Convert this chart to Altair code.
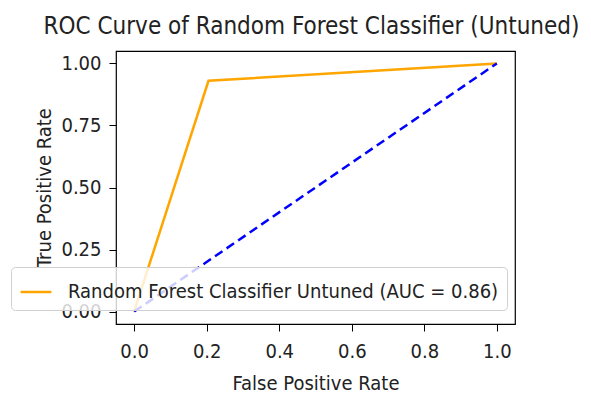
import altair as alt
import pandas as pd

# ---- data ----
fpr = [0.0, 0.205, 1.0]
tpr = [0.0, 0.93, 1.0]
diag_x = [0.0, 1.0]
diag_y = [0.0, 1.0]
series_name = "Random Forest Classifier Untuned (AUC = 0.86)"
x_ticks = [0.0, 0.2, 0.4, 0.6, 0.8, 1.0]
y_ticks = [0.0, 0.25, 0.5, 0.75, 1.0]

FONT = "DejaVu Sans Condensed, Liberation Sans Narrow, DejaVu Sans"
TXT = "#222222"

roc_df = pd.DataFrame({
    "fpr": fpr,
    "tpr": tpr,
    "series": [series_name] * len(fpr),
    "order": list(range(len(fpr))),
})
diag_df = pd.DataFrame({"fpr": diag_x, "tpr": diag_y, "order": list(range(len(diag_x)))})

xscale = alt.Scale(domain=[-0.05, 1.05], nice=False, zero=False)
yscale = alt.Scale(domain=[-0.05, 1.05], nice=False, zero=False)

common_axis = dict(
    grid=False, domain=False, tickColor="black", tickSize=7, tickWidth=1,
    labelFontSize=20, titleFontSize=20, labelFont=FONT, titleFont=FONT,
    labelColor=TXT, titleColor=TXT, titleFontWeight="normal",
    labelFlush=False, labelOverlap=False,
)

xaxis = alt.Axis(values=x_ticks, format=".1f", title="False Positive Rate",
                 labelPadding=10, titlePadding=12, **common_axis)
yaxis = alt.Axis(values=y_ticks, format=".2f", title="True Positive Rate",
                 labelPadding=8, titlePadding=6, **common_axis)

roc = alt.Chart(roc_df).mark_line(strokeWidth=2.5).encode(
    x=alt.X("fpr:Q", scale=xscale, axis=xaxis),
    y=alt.Y("tpr:Q", scale=yscale, axis=yaxis),
    order="order:Q",
    color=alt.Color(
        "series:N",
        scale=alt.Scale(domain=[series_name], range=["#FFA500"]),
        legend=alt.Legend(
            title=None, orient="none", legendX=-105, legendY=216,
            symbolType="stroke", symbolStrokeWidth=2.5, symbolSize=950,
            labelFontSize=20, labelFont=FONT, labelColor=TXT, labelLimit=700,
            labelOffset=15, padding=8,
            fillColor="rgba(255,255,255,0.8)", strokeColor="#d0d0d0",
            cornerRadius=4,
        ),
    ),
)

diag = alt.Chart(diag_df).mark_line(strokeWidth=2.5, strokeDash=[9, 5], color="#0000FF").encode(
    x=alt.X("fpr:Q", scale=xscale),
    y=alt.Y("tpr:Q", scale=yscale),
    order="order:Q",
)

chart = alt.layer(roc, diag).properties(
    width=399,
    height=273,
    title=alt.TitleParams(
        "ROC Curve of Random Forest Classifier (Untuned)",
        font=FONT, fontSize=24, fontWeight="normal", color=TXT,
        anchor="middle", offset=12, dx=-4,
    ),
    autosize=alt.AutoSizeParams(type="none"),
    padding={"left": 108, "top": 43, "right": 68, "bottom": 74},
).configure_view(stroke="black", strokeWidth=1.2)

chart.save("out.html", embed_options={"renderer": "svg", "actions": False})
